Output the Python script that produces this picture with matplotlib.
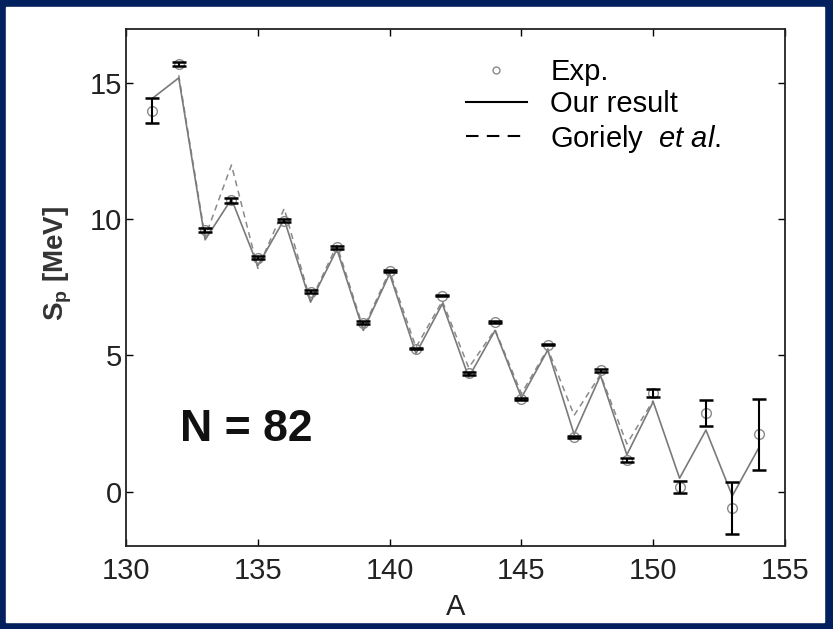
import matplotlib
matplotlib.use('Agg')
import matplotlib.pyplot as plt
from matplotlib.lines import Line2D
from matplotlib.patches import Rectangle

plt.rcParams['font.family'] = ['Liberation Sans', 'DejaVu Sans']
plt.rcParams['mathtext.fontset'] = 'custom'
plt.rcParams['mathtext.rm'] = 'Liberation Sans'
plt.rcParams['mathtext.it'] = 'Liberation Sans:italic'

# mass number A of the N = 82 isotones
A = [131, 132, 133, 134, 135, 136, 137, 138, 139, 140, 141, 142,
     143, 144, 145, 146, 147, 148, 149, 150, 151, 152, 153, 154]

# experimental proton separation energy (MeV) and its error
sp_exp = [14.0, 15.7, 9.6, 10.7, 8.6, 9.95, 7.35, 8.97, 6.2, 8.1, 5.25, 7.2,
          4.35, 6.22, 3.4, 5.4, 2.0, 4.45, 1.15, 3.62, 0.15, 2.9, -0.6, 2.1]
sp_err = [0.45, 0.08, 0.07, 0.1, 0.05, 0.05, 0.05, 0.05, 0.05, 0.05, 0.03, 0.03,
          0.05, 0.03, 0.05, 0.03, 0.05, 0.05, 0.07, 0.15, 0.22, 0.48, 0.95, 1.3]

# our result
sp_ours = [14.45, 15.2, 9.25, 10.75, 8.3, 10.0, 6.96, 8.9, 5.92, 8.0, 5.07, 6.9,
           4.2, 5.92, 3.45, 5.2, 2.1, 4.27, 1.35, 3.3, 0.49, 2.26, -0.16, 1.6]

# Goriely et al.
A_gor = [132, 133, 134, 135, 136, 137, 138, 139, 140, 141, 142, 143,
         144, 145, 146, 147, 148, 149, 150]
sp_gor = [15.3, 9.35, 12.0, 8.2, 10.4, 7.0, 9.05, 6.0, 8.1, 5.3, 7.0, 4.55,
          5.95, 3.6, 5.25, 2.8, 4.3, 1.75, 3.35]

navy = '#03205e'
fig = plt.figure(figsize=(8.33, 6.29), dpi=100, facecolor=navy)
fig.patches.append(Rectangle((6 / 833, 7 / 629), 818 / 833, 615 / 629,
                             transform=fig.transFigure, color='white', zorder=-10))
ax = fig.add_axes([0.1513, 0.132, 0.7911, 0.822])
ax.set_facecolor('white')

ax.plot(A_gor, sp_gor, color='#8a8a8a', lw=1.1, dashes=(4, 3))
ax.plot(A, sp_ours, color='#7a7a7a', lw=1.2)
ax.plot(A, sp_exp, 'o', ms=7, mfc='none', mec='#8a8a8a', mew=1.0)
ax.errorbar(A, sp_exp, yerr=sp_err, fmt='none', ecolor='black',
            elinewidth=1.5, capsize=5, capthick=1.8)

ax.set_xlim(130, 155)
ax.set_ylim(-2, 17)
ax.set_xticks([130, 135, 140, 145, 150, 155])
ax.set_yticks([0, 5, 10, 15])
ax.tick_params(direction='in', length=5, width=1, top=True, right=True,
               labelsize=21, labelcolor='#222222')
ax.tick_params(axis='x', pad=8)
ax.tick_params(axis='y', pad=3)
for s in ax.spines.values():
    s.set_linewidth(1.3)
    s.set_color('#222222')

ax.set_xlabel('A', fontsize=21, color='#222222', labelpad=6)
ax.set_ylabel(r'S$_\mathregular{p}$ [MeV]', fontsize=20, fontweight='bold',
              color='#333333')
ax.yaxis.set_label_coords(-0.079, 0.547)

ax.text(134.55, 2.27, 'N = 82', fontsize=32, fontweight='bold',
        ha='center', va='center', color='#111111')

handles = [
    Line2D([], [], ls='none', marker='o', ms=5, mfc='none', mec='#8a8a8a', mew=1.0),
    Line2D([], [], color='black', lw=1.5),
    Line2D([], [], color='black', lw=1.5, dashes=(6, 4)),
]
labels = ['Exp.', 'Our result', r'Goriely  $\mathit{et\ al.}$']
ax.legend(handles, labels, loc='upper left', bbox_to_anchor=(0.5155, 0.944),
          frameon=False, fontsize=21, borderpad=0, borderaxespad=0,
          handlelength=2.1, handletextpad=0.8, labelspacing=0.15)

fig.savefig('out.png', dpi=100, facecolor=navy)
